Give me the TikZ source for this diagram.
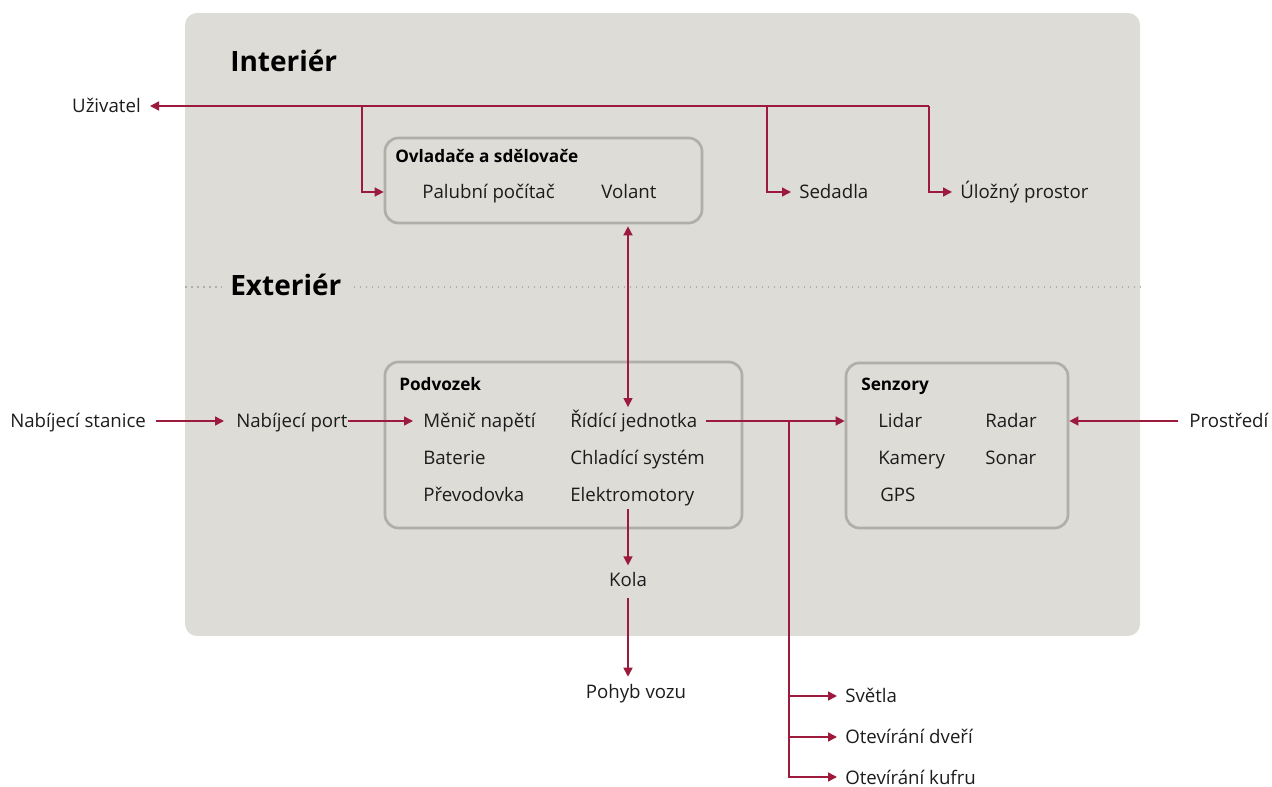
\documentclass[tikz,border=0pt]{standalone}
\usepackage{fontspec}
\setmainfont{Open Sans}
\usetikzlibrary{arrows.meta}
\definecolor{bgc}{RGB}{222,220,215}
\definecolor{boxc}{RGB}{176,174,168}
\definecolor{arrc}{RGB}{156,27,60}
\definecolor{txtc}{RGB}{28,28,28}
\tikzset{
  txt/.style={inner sep=0pt, anchor=west, text=txtc, font=\fontsize{14}{16}\selectfont, text height=12.5pt, text depth=2pt},
  btitle/.style={inner sep=0pt, anchor=west, text=black, font=\fontsize{12.9}{15}\selectfont\bfseries, text height=10.5pt, text depth=2.5pt},
  bigtitle/.style={inner sep=0pt, anchor=west, text=black, font=\fontsize{21}{24}\selectfont\bfseries, text height=16pt, text depth=4.5pt},
  box/.style={draw=boxc, line width=2pt, rounded corners=10pt, inner sep=0pt},
  arr/.style={draw=arrc, line width=1.1pt, -{Triangle[length=6.75pt,width=6.75pt]}},
  arrtwo/.style={draw=arrc, line width=1.1pt, {Triangle[length=6.75pt,width=6.75pt]}-{Triangle[length=6.75pt,width=6.75pt]}},
  dotline/.style={draw=boxc, line width=1.5pt, dash pattern=on 1.3pt off 3.2pt}
}
\begin{document}
\begin{tikzpicture}[x=0.75pt,y=-0.75pt]
\useasboundingbox (0,0) rectangle (1272,787);
% background
\fill[bgc, rounded corners=9pt] (185,13) rectangle (1140,636);
\coordinate (bgl) at (185,287);
\coordinate (bgr) at (1140,287);

% titles
\node[bigtitle] (int) at (230,64) {Interiér};
\node[bigtitle] (ext) at (230,288) {Exteriér};
\draw[dotline] (bgl) -- ([xshift=-6pt]ext.west |- bgl);
\draw[dotline] ([xshift=9pt]ext.east |- bgr) -- (bgr);

% boxes
\node[box, minimum width=237.75pt, minimum height=63.75pt] (ovl) at (543.5,180.5) {};
\node[box, minimum width=267.75pt, minimum height=124.5pt] (pod) at (563.5,445) {};
\node[box, minimum width=166.5pt, minimum height=123.75pt] (sen) at (957,445.5) {};

% box contents
\node[btitle] (ovlt) at (395,157) {Ovladače a sdělovače};
\node[txt] (pal) at (422,192) {Palubní počítač};
\node[txt] (vol) at (601,192) {Volant};

\node[btitle] (podt) at (399,385) {Podvozek};
\node[txt] (men) at (423,421) {Měnič napětí};
\node[txt] (bat) at (423,458) {Baterie};
\node[txt] (pre) at (423,495) {Převodovka};
\node[txt] (rid) at (570,421) {Řídící jednotka};
\node[txt] (chl) at (570,458) {Chladící systém};
\node[txt] (ele) at (570,495) {Elektromotory};

\node[btitle] (sent) at (861,385) {Senzory};
\node[txt] (lid) at (878,421) {Lidar};
\node[txt] (kam) at (878,458) {Kamery};
\node[txt] (gps) at (880,495) {GPS};
\node[txt] (rad) at (985,421) {Radar};
\node[txt] (son) at (985,458) {Sonar};

% outer texts
\node[txt, anchor=east] (uz) at (141,106) {Uživatel};
\node[txt] (sed) at (799,192) {Sedadla};
\node[txt] (ulo) at (960,192) {Úložný prostor};
\node[txt] (nst) at (10,421) {Nabíjecí stanice};
\node[txt] (npo) at (236,421) {Nabíjecí port};
\node[txt] (pro) at (1189,421) {Prostředí};
\node[txt, anchor=center] (kol) at (628,580) {Kola};
\node[txt, anchor=center] (poh) at (636,692) {Pohyb vozu};
\node[txt] (sve) at (845,696) {Světla};
\node[txt] (dve) at (845,737) {Otevírání dveří};
\node[txt] (kuf) at (845,777) {Otevírání kufru};

% junctions
\coordinate (j1) at (362,106);
\coordinate (j2) at (767,106);
\coordinate (j3) at (929,106);
\coordinate (jr) at (789,421);
\coordinate (ax) at (628,0);

% connectors
\draw[arr, shorten >=6.75pt] (j3) -- (uz.east);
\draw[arr] (j1) |- (ovl.west |- pal.west);
\draw[arr, shorten >=6pt] (j2) |- (sed.west);
\draw[arr, shorten >=6pt] (j3) |- (ulo.west);

\draw[arrtwo, shorten <=1.5pt, shorten >=3pt] (ovl.south -| ax) -- (rid.north -| ax);

\draw[arr, shorten <=7.5pt, shorten >=9pt] (nst.east) -- (npo.west);
\draw[arr, shorten >=7.5pt] (npo.east) -- (men.west);
\draw[arr, shorten <=6pt] (rid.east) -- (sen.west |- rid.east);
\draw[arr, shorten <=8pt] (pro.west) -- (sen.east |- pro.west);

\draw[arr, shorten <=3pt, shorten >=3.5pt] (ele.south -| ax) -- (kol.north -| ax);
\draw[arr, shorten <=6pt, shorten >=4pt] (kol.south -| ax) -- (poh.north -| ax);

\draw[arr, shorten >=6pt] (jr) |- (sve.west);
\draw[arr, shorten >=6pt] (jr) |- (dve.west);
\draw[arr, shorten >=6pt] (jr) |- (kuf.west);
\end{tikzpicture}
\end{document}
